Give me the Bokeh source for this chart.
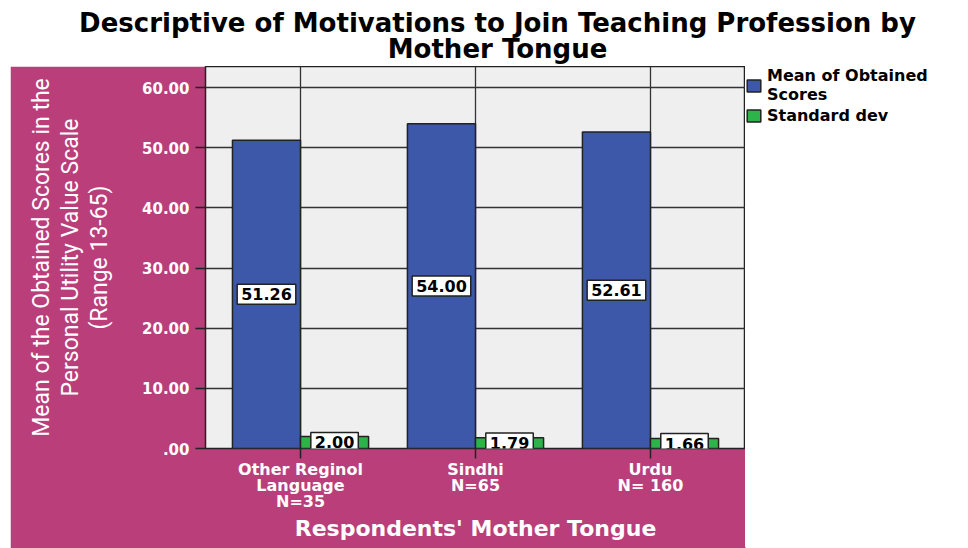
from bokeh.plotting import figure
from bokeh.layouts import column, row
from bokeh.models import (ColumnDataSource, Range1d, FixedTicker, PrintfTickFormatter,
                          Label, Legend, LegendItem, Spacer)
from bokeh.transform import dodge
from bokeh.core.properties import value
from bokeh.embed import file_html
from bokeh.resources import INLINE

# ---------------- data ----------------
categories = ["Other Reginol\nLanguage\nN=35", "Sindhi\nN=65", "Urdu\nN= 160"]
mean_scores = [51.26, 54.00, 52.61]
std_devs = [2.00, 1.79, 1.66]
y_ticks = [0, 10, 20, 30, 40, 50, 60]
y_tick_labels = [".00", "10.00", "20.00", "30.00", "40.00", "50.00", "60.00"]
series_names = ["Mean of Obtained\nScores", "Standard dev"]
title_lines = ["Descriptive of Motivations to Join Teaching Profession by", "Mother Tongue"]
y_title = "Mean of the Obtained Scores in the\nPersonal Utility Value Scale\n(Range 13-65)"
x_title = "Respondents' Mother Tongue"

PINK = "#b93e7a"
BLUE = "#3d57a9"
GREEN = "#2cb34a"
EDGE = "#222222"
FONT = "DejaVu Sans"

idx = list(range(len(categories)))
src = ColumnDataSource(dict(
    x=idx,
    mean=mean_scores,
    sd=std_devs,
    mean_mid=[m / 2 for m in mean_scores],
    sd_mid=[s / 2 for s in std_devs],
    mean_txt=["%.2f" % m for m in mean_scores],
    sd_txt=["%.2f" % s for s in std_devs],
))

W, H = 968, 548
TOP = 66          # height of the title strip
PINK_L = 10       # left edge of pink panel
FRAME_L = 205     # frame left (page)
FRAME_R = 745     # frame right (page)
FRAME_H = 382

# ---------------- title strip ----------------
tf = figure(frame_width=W, frame_height=TOP, x_range=Range1d(0, W), y_range=Range1d(0, TOP),
            output_backend="svg", toolbar_location=None, min_border=0,
            x_axis_location=None, y_axis_location=None)
tf.outline_line_color = None
tf.grid.visible = False
tf.background_fill_color = "white"
tf.border_fill_color = "white"
for txt, py in zip(title_lines, [22, 48]):
    tf.add_layout(Label(x=497, y=TOP - py, text=txt, text_align="center", text_baseline="middle",
                        text_font=FONT, text_font_style="bold", text_font_size="26px",
                        text_color="black"))

# ---------------- main chart ----------------
p = figure(frame_width=FRAME_R - FRAME_L, frame_height=FRAME_H,
           x_range=Range1d(-0.543, 2.543), y_range=Range1d(0, 63.5),
           output_backend="svg", toolbar_location=None,
           min_border_left=FRAME_L - PINK_L, min_border_top=0,
           min_border_bottom=H - TOP - FRAME_H, min_border_right=0)
p.background_fill_color = "#efefef"
p.border_fill_color = PINK
p.outline_line_color = EDGE
p.outline_line_width = 1.5

p.xgrid.ticker = FixedTicker(ticks=idx)
p.ygrid.ticker = FixedTicker(ticks=y_ticks)
for g in (p.xgrid, p.ygrid):
    g.grid_line_color = "#333333"
    g.grid_line_width = 1.3

w = 0.389
bar_mean = dict(x=dodge("x", -w / 2), top="mean", width=w, source=src,
                fill_color=BLUE, line_color=EDGE, line_width=1.5)
bar_sd = dict(x=dodge("x", w / 2), top="sd", width=w, source=src,
              fill_color=GREEN, line_color=EDGE, line_width=1.5)
p.vbar(**bar_mean)
p.vbar(**bar_sd)

common = dict(source=src, text_align="center", text_baseline="middle",
              text_font=value(FONT), text_font_style="bold", text_font_size="16px",
              text_color="black", background_fill_color="white",
              border_line_color=EDGE, border_line_width=1.5, padding=4)
p.text(x=dodge("x", -w / 2), y="mean_mid", text="mean_txt", **common)
p.text(x=dodge("x", w / 2), y="sd_mid", text="sd_txt", **common)

xa = p.xaxis[0]
xa.ticker = FixedTicker(ticks=idx)
xa.major_label_overrides = {i: c for i, c in zip(idx, categories)}
xa.major_label_text_color = "white"
xa.major_label_text_font = FONT
xa.major_label_text_font_style = "bold"
xa.major_label_text_font_size = "16px"
xa.major_label_text_line_height = 0.85
xa.major_label_standoff = 1
xa.major_tick_out = 10
xa.major_tick_in = 0
xa.minor_tick_line_color = None
xa.major_tick_line_color = EDGE
xa.major_tick_line_width = 1.5
xa.axis_line_color = None
xa.axis_label = x_title
xa.axis_label_text_color = "white"
xa.axis_label_text_font = FONT
xa.axis_label_text_font_style = "bold"
xa.axis_label_text_font_size = "22px"
xa.axis_label_standoff = 2

ya = p.yaxis[0]
ya.ticker = FixedTicker(ticks=y_ticks)
ya.major_label_overrides = {t: l for t, l in zip(y_ticks, y_tick_labels)}
ya.formatter = PrintfTickFormatter(format="%.2f")
ya.major_label_text_color = "white"
ya.major_label_text_font = FONT
ya.major_label_text_font_style = "bold"
ya.major_label_text_font_size = "15px"
ya.major_label_standoff = 6
ya.major_tick_out = 10
ya.major_tick_in = 0
ya.minor_tick_line_color = None
ya.major_tick_line_color = EDGE
ya.major_tick_line_width = 1.5
ya.axis_line_color = None
ya.axis_label = y_title
ya.axis_label_text_color = "white"
ya.axis_label_text_font = "Roboto"
ya.axis_label_text_font_style = "normal"
ya.axis_label_text_font_size = "23px"
ya.axis_label_text_line_height = 1.08
ya.axis_label_standoff = 26

# ---------------- legend strip ----------------
lf = figure(frame_width=W - FRAME_R, frame_height=H - TOP, x_range=Range1d(10, 11), y_range=Range1d(100, 101),
            output_backend="svg", toolbar_location=None, min_border=0,
            x_axis_location=None, y_axis_location=None)
lf.outline_line_color = None
lf.grid.visible = False
lf.background_fill_color = "white"
lf.border_fill_color = "white"
# same bars, outside this strip's visible range: used only as legend swatches
k1 = lf.vbar(**bar_mean)
k2 = lf.vbar(**bar_sd)
legend = Legend(items=[LegendItem(label=series_names[0], renderers=[k1]),
                       LegendItem(label=series_names[1], renderers=[k2])],
                location="top_left", orientation="vertical",
                label_text_font=FONT, label_text_font_style="bold", label_text_color="black",
                label_text_font_size="16px", label_text_line_height=0.8,
                glyph_width=17, glyph_height=15, label_standoff=5,
                spacing=2, padding=5, margin=0,
                border_line_color=None, background_fill_alpha=0)
lf.add_layout(legend, "center")

layout = column(tf, row(Spacer(width=PINK_L, height=H - TOP), p, lf))
open("out.html", "w").write(file_html(layout, INLINE))
